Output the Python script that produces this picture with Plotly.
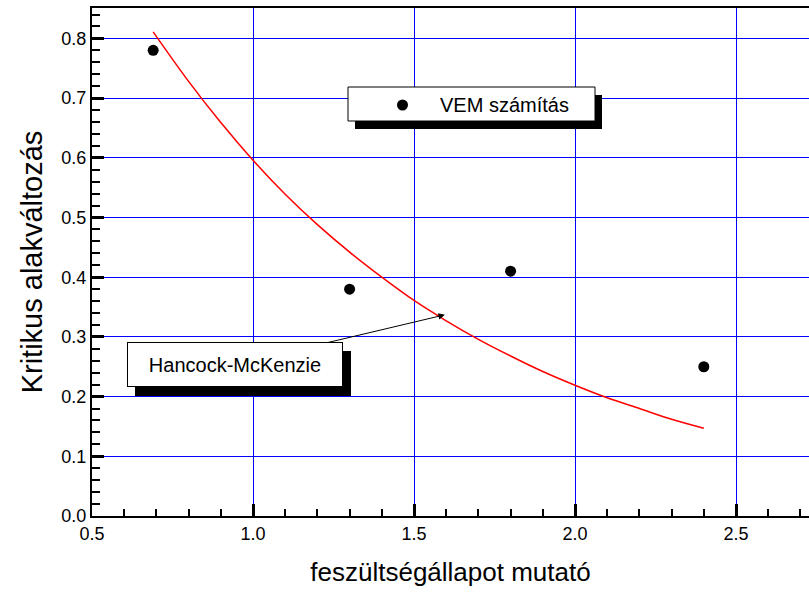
import plotly.graph_objects as go

# VEM (finite element) results
vem_x = [0.69, 1.30, 1.80, 2.40]
vem_y = [0.78, 0.38, 0.41, 0.25]

# Hancock-McKenzie criterion curve
hm_x = [0.69, 0.80, 0.90, 1.00, 1.10, 1.20, 1.30, 1.40, 1.50, 1.60,
        1.70, 1.80, 1.90, 2.00, 2.10, 2.20, 2.30, 2.40]
hm_y = [0.811, 0.728, 0.659, 0.596, 0.539, 0.488, 0.442, 0.400, 0.361, 0.327,
        0.296, 0.268, 0.242, 0.219, 0.198, 0.180, 0.162, 0.147]

# axis ticks
x_ticks = [0.5, 1.0, 1.5, 2.0, 2.5]
x_tick_labels = ["0.5", "1.0", "1.5", "2.0", "2.5"]
y_ticks = [0.0, 0.1, 0.2, 0.3, 0.4, 0.5, 0.6, 0.7, 0.8]
y_tick_labels = ["0.0", "0.1", "0.2", "0.3", "0.4", "0.5", "0.6", "0.7", "0.8"]
x_minor_step = 0.1
y_minor_step = 0.02

series_label = "VEM számítás"
curve_label = "Hancock-McKenzie"
x_title = "feszültségállapot mutató"
y_title = "Kritikus alakváltozás"

W, H = 809, 593
ML, MR, MT, MB = 92, 0, 8, 77
PW, PH = W - ML - MR, H - MT - MB
PX_PER_X = 322.0   # pixels per unit on the x axis
PX_PER_Y = 597.0   # pixels per unit on the y axis
FONT = "Liberation Sans, Arial, sans-serif"
INK = "#000000"

x_max = 0.5 + PW / PX_PER_X
y_max = PH / PX_PER_Y


def px_x(p):
    return (p - ML) / PW


def px_y(p):
    return (H - MB - p) / PH


fig = go.Figure()
fig.add_trace(go.Scatter(x=hm_x, y=hm_y, mode="lines", line=dict(color="#ff0000", width=1.5, shape="spline"),
                         name=curve_label, showlegend=False))
fig.add_trace(go.Scatter(x=vem_x, y=vem_y, mode="markers", marker=dict(color=INK, size=11),
                         name=series_label, showlegend=False))

shapes = [
    # legend box for the points, with drop shadow
    dict(type="rect", xref="paper", yref="paper", x0=px_x(355), x1=px_x(602), y0=px_y(129), y1=px_y(95),
         fillcolor=INK, line=dict(width=0), layer="above"),
    dict(type="rect", xref="paper", yref="paper", x0=px_x(348), x1=px_x(595), y0=px_y(121), y1=px_y(87),
         fillcolor="white", line=dict(color=INK, width=1), layer="above"),
    dict(type="circle", xref="paper", yref="paper", x0=px_x(397), x1=px_x(408), y0=px_y(110.5), y1=px_y(99.5),
         fillcolor=INK, line=dict(width=0), layer="above"),
    # shadow behind the curve label
    dict(type="rect", xref="paper", yref="paper", x0=px_x(135), x1=px_x(351), y0=px_y(396), y1=px_y(351),
         fillcolor=INK, line=dict(width=0), layer="above"),
]

# label box centre, converted from pixels to data units
box_cx = 0.5 + (235 - ML) / PX_PER_X
box_cy = (H - MB - 364.5) / PX_PER_Y

annotations = [
    dict(xref="paper", yref="paper", x=px_x(438), y=px_y(105), xanchor="left", yanchor="middle",
         text=series_label, showarrow=False, font=dict(family=FONT, size=20, color=INK)),
    dict(xref="x", yref="y", x=1.596, y=0.337, axref="x", ayref="y", ax=box_cx, ay=box_cy,
         text=curve_label, showarrow=True, arrowhead=2, arrowsize=1.3, arrowwidth=1, arrowcolor=INK,
         standoff=0, bgcolor="white", bordercolor=INK, borderwidth=1, borderpad=0,
         width=214, height=43, align="center", valign="middle",
         font=dict(family=FONT, size=20, color=INK)),
]

fig.update_layout(
    width=W, height=H,
    margin=dict(l=ML, r=MR, t=MT, b=MB),
    plot_bgcolor="white",
    xaxis=dict(range=[0.5, x_max], tickmode="array", tickvals=x_ticks, ticktext=x_tick_labels,
               showline=True, linecolor=INK, linewidth=2, mirror=True,
               ticks="inside", tickcolor=INK, tickwidth=3, ticklen=12,
               showgrid=True, gridcolor="#0000ff", gridwidth=1, zeroline=False,
               tickfont=dict(family=FONT, size=18, color=INK),
               minor=dict(ticks="inside", ticklen=7, tickwidth=2, tickcolor=INK,
                          dtick=x_minor_step, showgrid=False),
               title=dict(text=x_title, font=dict(family=FONT, size=26, color=INK), standoff=20)),
    yaxis=dict(range=[0, y_max], tickmode="array", tickvals=y_ticks, ticktext=y_tick_labels,
               showline=True, linecolor=INK, linewidth=2,
               ticks="inside", tickcolor=INK, tickwidth=3, ticklen=12,
               showgrid=True, gridcolor="#0000ff", gridwidth=1, zeroline=False,
               tickfont=dict(family=FONT, size=18, color=INK),
               minor=dict(ticks="inside", ticklen=8, tickwidth=2, tickcolor=INK,
                          dtick=y_minor_step, showgrid=False),
               title=dict(text=y_title, font=dict(family=FONT, size=29, color=INK), standoff=10)),
    shapes=shapes,
    annotations=annotations,
)

fig.write_html("out.html")
